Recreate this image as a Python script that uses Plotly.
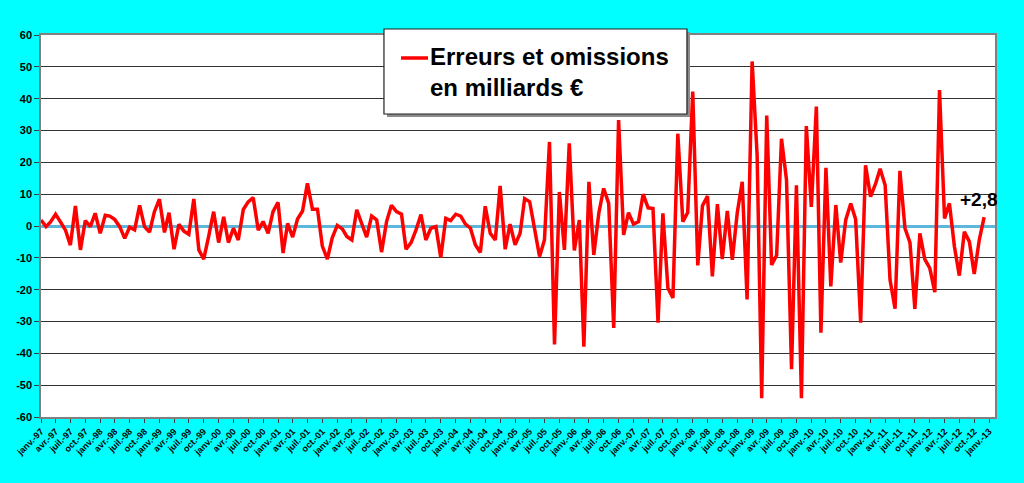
import plotly.graph_objects as go
import pandas as pd

# monthly values, janv.-97 to déc.-12 (milliards €)
values = [
    1.9, -0.2, 1.3, 3.7, 1.3, -1.3, -6.0, 6.3, -7.5, 1.7, -0.2, 4.0,
    -2.3, 3.4, 3.1, 2.0, -0.2, -3.9, -0.4, -1.2, 6.5, -0.2, -1.9, 4.5,
    8.4, -2.0, 4.2, -7.3, 0.5, -1.6, -2.6, 8.5, -7.5, -10.4, -3.1, 4.5,
    -5.2, 2.9, -5.2, -0.7, -4.4, 5.2, 7.6, 8.9, -1.3, 1.4, -2.3, 4.5,
    7.4, -8.5, 0.8, -3.5, 2.2, 4.7, 13.4, 5.3, 5.3, -6.3, -10.4, -3.7,
    0.2, -0.9, -3.3, -4.4, 5.1, 0.8, -3.5, 3.1, 1.9, -8.2, 1.4, 6.5,
    4.5, 3.7, -7.3, -5.2, -1.3, 3.6, -4.4, -0.7, -0.2, -9.9, 2.4, 1.7,
    3.7, 3.1, 0.6, -0.7, -5.9, -8.3, 6.2, -2.3, -4.4, 12.6, -7.3, 0.6,
    -5.9, -2.3, 8.6, 7.6, -1.5, -9.6, -4.4, 26.4, -37.2, 10.7, -7.5, 26.0,
    -7.7, 1.9, -37.9, 13.9, -9.1, 4.0, 11.8, 7.1, -32.0, 33.3, -2.8, 4.2,
    0.6, 1.4, 10.0, 5.7, 5.5, -30.4, 4.0, -19.5, -22.6, 29.0, 1.4, 4.2,
    42.2, -12.4, 6.4, 9.4, -15.8, 6.9, -10.4, 4.7, -10.6, 4.0, 13.9, -23.1,
    51.7, 22.0, -54.1, 34.7, -12.2, -9.2, 27.4, 14.4, -45.0, 12.8, -54.1, 31.4,
    6.0, 37.5, -33.5, 18.3, -19.0, 6.6, -11.5, 1.9, 7.1, 2.1, -30.4, 19.1,
    9.2, 13.3, 18.0, 12.8, -16.9, -26.0, 17.3, -0.7, -5.2, -26.0, -2.3, -10.4,
    -13.2, -20.8, 42.7, 2.4, 7.1, -6.5, -15.6, -1.8, -4.9, -15.1, -4.4, 2.8,
]
months = pd.date_range("1997-01-01", periods=len(values), freq="MS")

# quarterly tick labels, janv.-97 ... janv.-13
month_names = {1: "janv.", 4: "avr.", 7: "juil.", 10: "oct."}
tick_dates = pd.date_range("1997-01-01", "2013-01-01", freq="QS")
tick_labels = [f"{month_names[d.month]}-{d.strftime('%y')}" for d in tick_dates]

y_ticks = list(range(-60, 61, 10))
series_name = "Erreurs et omissions<br>en milliards €"
last_label = "+2,8"

font_family = "Arial, Liberation Sans, sans-serif"
red = "#ff0000"

fig = go.Figure()
fig.add_trace(go.Scatter(
    x=months, y=values, mode="lines", name="Erreurs et omissions",
    line=dict(color=red, width=3.5),
    showlegend=False,
))

# hand-drawn legend box (Excel style, with shadow)
fig.add_shape(type="rect", xref="paper", yref="paper",
              x0=0.3627, x1=0.6803, y0=0.7853, y1=1.0079,
              fillcolor="#8c8c8c", line=dict(width=0), layer="above")
fig.add_shape(type="rect", xref="paper", yref="paper",
              x0=0.3595, x1=0.6771, y0=0.7932, y1=1.0157,
              fillcolor="white", line=dict(color="#202020", width=1.2), layer="above")
fig.add_shape(type="line", xref="paper", yref="paper",
              x0=0.3774, x1=0.4057, y0=0.9398, y1=0.9398,
              line=dict(color=red, width=3.5), layer="above")
fig.add_annotation(
    xref="paper", yref="paper", x=0.4057, y=0.903,
    xanchor="left", yanchor="middle", align="left", showarrow=False,
    text=series_name,
    font=dict(family=font_family, size=24, color="black", weight="bold"),
)

fig.add_annotation(
    x=months[-1], y=values[-1], text=last_label, showarrow=False,
    xanchor="center", yanchor="bottom", xshift=-5, yshift=5,
    font=dict(family=font_family, size=19, color="black", weight="bold"),
)

fig.update_layout(
    width=1024, height=483,
    paper_bgcolor="#00ffff", plot_bgcolor="white",
    margin=dict(l=41, r=29, t=35, b=66),
    font=dict(family=font_family, color="black"),
    showlegend=False,
)
fig.update_xaxes(
    type="date", range=["1997-01-01", "2013-02-06"],
    tickvals=tick_dates, ticktext=tick_labels, tickangle=-45,
    tickfont=dict(size=9, weight="bold"),
    ticks="outside", ticklen=4, tickcolor="#404040",
    showgrid=False, showline=True, linecolor="#808080", linewidth=1.5, mirror=True,
)
fig.update_yaxes(
    range=[-60, 60], tickvals=y_ticks, ticktext=[str(v) for v in y_ticks],
    tickfont=dict(size=11, weight="bold"),
    ticks="outside", ticklen=5, tickcolor="#404040",
    showgrid=True, gridcolor="#333333", gridwidth=1,
    zeroline=True, zerolinecolor="#5bb8dc", zerolinewidth=2.5,
    showline=True, linecolor="#808080", linewidth=1.5, mirror=True,
)

fig.write_html("out.html", config={"displayModeBar": False},
               post_script="document.body.style.margin='0';")
